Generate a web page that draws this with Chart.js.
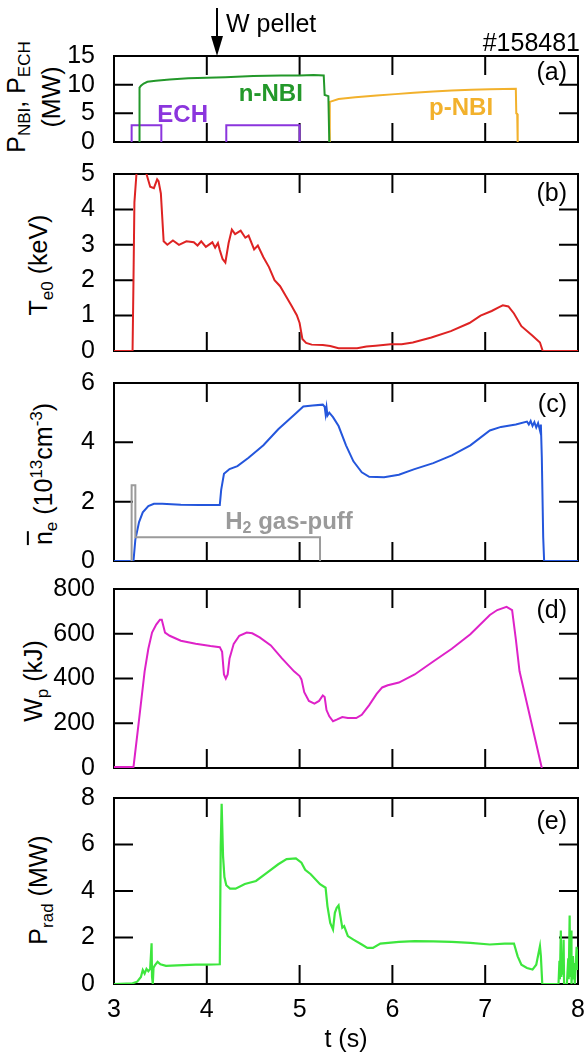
<!DOCTYPE html>
<html><head><meta charset="utf-8">
<script src="https://cdn.jsdelivr.net/npm/chart.js@4.4.0/dist/chart.umd.min.js"></script>
<style>
html,body{margin:0;padding:0;background:#fff;}
#wrap{position:relative;width:588px;height:1064px;overflow:hidden;font-family:"Liberation Sans",Arial,sans-serif;background:#fff;}
canvas{position:absolute;left:0;}
.yt{position:absolute;white-space:nowrap;font-size:25px;color:#000;transform:translate(-50%,-50%) rotate(-90deg);text-align:center;line-height:27px;}
.sb{font-size:0.68em;vertical-align:-0.3em;}
.sp{font-size:0.68em;vertical-align:0.6em;}
.ov{text-decoration:overline;}
</style></head><body>
<div id="wrap">
<div class="yt" style="left:34px;top:97px">P<span class="sb">NBI</span>, P<span class="sb">ECH</span><br>(MW)</div>
<div class="yt" style="left:43px;top:265px">T<span class="sb">e0</span> (keV)</div>
<div class="yt" style="left:44px;top:474px"><span class="ov">n</span><span class="sb">e</span> (10<span class="sp">13</span>cm<span class="sp">-3</span>)</div>
<div class="yt" style="left:38px;top:681px">W<span class="sb">p</span> (kJ)</div>
<div class="yt" style="left:43px;top:890px">P<span class="sb">rad</span> (MW)</div>
</div>
<script>
// ---------------- DATA ----------------
const xTicks = [3, 4, 5, 6, 7, 8];
const panelLabels = ['(a)', '(b)', '(c)', '(d)', '(e)'];
const yMin = [0, 0, 0, 0, 0];
const yMax = [15, 5, 6, 800, 8];
const yStep = [5, 1, 2, 200, 2];

// (a) heating power (MW)
const nbiT = [3.27, 3.275, 3.29, 3.32, 3.36, 3.45, 3.6, 3.8, 4.0, 4.2, 4.5, 4.8, 5.0, 5.15, 5.26, 5.27, 5.31, 5.32];
const nbiV = [0, 9.5, 9.8, 10.2, 10.5, 10.7, 10.9, 11.1, 11.2, 11.3, 11.5, 11.6, 11.6, 11.7, 11.6, 8.2, 8.0, 0];
const pnbiT = [5.32, 5.325, 5.42, 5.6, 5.83, 6.03, 6.23, 6.44, 6.64, 6.85, 7.05, 7.2, 7.33, 7.335, 7.345, 7.35];
const pnbiV = [0, 7.0, 7.5, 7.8, 8.1, 8.35, 8.6, 8.8, 9.0, 9.1, 9.2, 9.25, 9.3, 5.0, 4.9, 0];
const echT = [3.19, 3.19, 3.51, 3.51, 3.8, 4.21, 4.21, 5.0, 5.0];
const echV = [0, 2.9, 2.9, 0, null, 0, 2.9, 2.9, 0];

// (b) central electron temperature (keV)
const teT = [3.0, 3.2, 3.21, 3.22, 3.25, 3.27, 3.3, 3.35, 3.39, 3.43, 3.465, 3.48, 3.505, 3.535, 3.575, 3.635, 3.7, 3.78, 3.86, 3.9, 3.94, 3.99, 4.06, 4.09, 4.12, 4.14, 4.17, 4.2, 4.235, 4.27, 4.305, 4.365, 4.415, 4.45, 4.51, 4.55, 4.61, 4.67, 4.73, 4.79, 4.85, 4.91, 4.97, 5.0, 5.03, 5.07, 5.13, 5.25, 5.33, 5.42, 5.62, 5.72, 5.82, 5.98, 6.1, 6.22, 6.42, 6.63, 6.83, 6.95, 7.07, 7.15, 7.19, 7.25, 7.31, 7.39, 7.51, 7.59, 7.62, 8.0];
const teV = [0, 0, 2.0, 4.2, 5.3, 5.4, 5.3, 5.0, 4.64, 4.6, 4.85, 4.8, 4.45, 3.1, 3.0, 3.12, 3.0, 3.1, 3.07, 2.98, 3.1, 2.94, 3.07, 2.92, 3.05, 2.85, 2.6, 2.5, 3.05, 3.43, 3.3, 3.4, 3.2, 3.26, 2.87, 2.98, 2.65, 2.37, 2.0, 1.83, 1.56, 1.29, 1.01, 0.79, 0.34, 0.23, 0.18, 0.17, 0.14, 0.08, 0.08, 0.13, 0.15, 0.19, 0.19, 0.24, 0.38, 0.56, 0.79, 1.0, 1.13, 1.24, 1.29, 1.26, 1.06, 0.7, 0.43, 0.24, 0, 0];

// (c) line-averaged density (1e13 cm^-3)
const neT = [3.0, 3.21, 3.23, 3.27, 3.31, 3.37, 3.43, 3.52, 3.72, 3.92, 4.14, 4.155, 4.185, 4.245, 4.33, 4.45, 4.61, 4.77, 4.94, 5.04, 5.14, 5.25, 5.27, 5.28, 5.29, 5.30, 5.32, 5.36, 5.42, 5.5, 5.58, 5.67, 5.75, 5.91, 6.07, 6.23, 6.44, 6.64, 6.84, 7.05, 7.17, 7.33, 7.45, 7.47, 7.49, 7.51, 7.53, 7.55, 7.57, 7.59, 7.6, 7.61, 7.625, 7.635, 8.0];
const neV = [0, 0, 0.72, 1.31, 1.64, 1.85, 1.93, 1.93, 1.9, 1.89, 1.89, 2.4, 2.94, 3.1, 3.2, 3.48, 3.9, 4.44, 4.92, 5.21, 5.24, 5.27, 5.2, 4.95, 5.18, 4.9, 5.0, 4.85, 4.55, 3.9, 3.36, 2.99, 2.84, 2.82, 2.91, 3.09, 3.3, 3.56, 3.9, 4.4, 4.52, 4.6, 4.7, 4.6, 4.72, 4.55, 4.68, 4.5, 4.65, 4.4, 4.6, 3.5, 0.8, 0, 0];
const gasT = [3.19, 3.19, 3.23, 3.23, 5.22, 5.22];
const gasV = [0, 2.55, 2.55, 0.8, 0.8, 0];

// (d) stored energy (kJ)
const wpT = [3.0, 3.21, 3.27, 3.33, 3.37, 3.41, 3.455, 3.495, 3.515, 3.55, 3.6, 3.72, 3.88, 4.04, 4.14, 4.165, 4.185, 4.205, 4.225, 4.245, 4.29, 4.35, 4.43, 4.49, 4.57, 4.69, 4.81, 4.94, 5.0, 5.02, 5.05, 5.1, 5.16, 5.21, 5.25, 5.27, 5.29, 5.32, 5.36, 5.4, 5.46, 5.52, 5.61, 5.67, 5.75, 5.83, 5.89, 5.95, 6.07, 6.24, 6.44, 6.64, 6.84, 7.05, 7.13, 7.23, 7.29, 7.33, 7.37, 7.45, 7.53, 7.61];
const wpV = [5, 5, 216, 432, 533, 605, 641, 663, 663, 605, 591, 569, 555, 545, 540, 519, 418, 400, 418, 490, 555, 591, 605, 602, 584, 548, 490, 432, 411, 396, 339, 300, 288, 300, 324, 317, 259, 231, 209, 216, 228, 223, 223, 238, 281, 331, 360, 370, 382, 418, 476, 533, 598, 684, 706, 720, 706, 576, 432, 288, 144, 0];

// (e) radiated power (MW)
const pradT = [3.0, 3.2, 3.25, 3.29, 3.31, 3.33, 3.35, 3.37, 3.39, 3.405, 3.41, 3.418, 3.426, 3.44, 3.47, 3.5, 3.56, 3.68, 3.88, 4.0, 4.14, 4.15, 4.16, 4.175, 4.19, 4.21, 4.25, 4.31, 4.41, 4.53, 4.65, 4.77, 4.86, 4.96, 5.02, 5.06, 5.12, 5.22, 5.28, 5.3, 5.33, 5.36, 5.38, 5.4, 5.42, 5.44, 5.46, 5.48, 5.52, 5.58, 5.67, 5.73, 5.79, 5.87, 6.07, 6.24, 6.44, 6.64, 6.84, 7.05, 7.21, 7.31, 7.35, 7.39, 7.45, 7.51, 7.55, 7.59, 7.6, 7.615, 7.79, 7.8, 7.805, 7.815, 7.82, 7.83, 7.835, 7.845, 7.85, 7.88, 7.895, 7.9, 7.91, 7.915, 7.925, 7.93, 7.945, 7.95, 7.96, 7.965, 7.985, 7.99, 8.0];
const pradV = [0, 0.03, 0.1, 0.3, 0.6, 0.45, 0.65, 0.55, 0.65, 1.75, 0.3, 0.0, 0.7, 0.8, 0.95, 0.85, 0.78, 0.8, 0.83, 0.83, 0.85, 5.9, 7.75, 5.5, 4.6, 4.25, 4.1, 4.1, 4.3, 4.43, 4.79, 5.15, 5.37, 5.4, 5.22, 4.91, 4.72, 4.29, 4.14, 3.35, 2.63, 2.35, 3.06, 3.28, 3.38, 2.91, 2.42, 2.49, 2.06, 1.91, 1.7, 1.55, 1.55, 1.74, 1.81, 1.84, 1.83, 1.81, 1.77, 1.7, 1.74, 1.74, 1.19, 0.83, 0.69, 0.62, 0.83, 1.63, 1.2, 0, 0, 1.0, 0.2, 2.3, 0.3, 1.2, 0.4, 1.9, 0, 0, 1.1, 0.2, 2.95, 0.3, 2.3, 0, 1.2, 0.2, 0.9, 0, 1.6, 0.6, 1.5];

// ---------------- STYLE / LAYOUT ----------------
const FONT = '"Liberation Sans", Arial, sans-serif';
Chart.defaults.font.family = FONT;
Chart.defaults.color = '#000';
const TL = 19;            // inward tick length
const panelTop = [56, 173, 382, 588, 797];
const panelBot = [148, 357, 567, 774, 984];
const labelDy = [17, 20, 22, 22, 24];

const C = {
  nbi: '#23982a', pnbi: '#f2b12c', ech: '#8b35dd', te: '#de2323',
  ne: '#2456dc', gas: '#9b9b9b', wp: '#de22c8', prad: '#3de63d'
};

const series = [
  [{t: nbiT, v: nbiV, c: C.nbi}, {t: pnbiT, v: pnbiV, c: C.pnbi}, {t: echT, v: echV, c: C.ech}],
  [{t: teT, v: teV, c: C.te}],
  [{t: gasT, v: gasV, c: C.gas}, {t: neT, v: neV, c: C.ne}],
  [{t: wpT, v: wpV, c: C.wp}],
  [{t: pradT, v: pradV, c: C.prad, w: 2.2}]
];

// text annotations (data coordinates)
const notes = [
  [{parts: [{t: 'ECH'}], x: 3.74, y: 4.6, c: C.ech},
   {parts: [{t: 'n-NBI'}], x: 4.69, y: 8.3, c: C.nbi},
   {parts: [{t: 'p-NBI'}], x: 6.74, y: 5.9, c: C.pnbi}],
  [],
  [{parts: [{t: 'H'}, {t: '2', s: 0.68, dy: 6}, {t: ' gas-puff'}], x: 4.886, y: 1.31, c: '#9a9a9a'}],
  [], []
];

function drawRich(ctx, parts, x, y, size, bold, align) {
  let total = 0;
  parts.forEach(p => {
    ctx.font = (bold ? 'bold ' : '') + Math.round(size * (p.s || 1)) + 'px ' + FONT;
    p.w = ctx.measureText(p.t).width; total += p.w;
  });
  let cx = align === 'center' ? x - total / 2 : (align === 'right' ? x - total : x);
  parts.forEach(p => {
    ctx.font = (bold ? 'bold ' : '') + Math.round(size * (p.s || 1)) + 'px ' + FONT;
    ctx.textAlign = 'left'; ctx.textBaseline = 'middle';
    ctx.fillText(p.t, cx, y + (p.dy || 0));
    cx += p.w;
  });
}

const wrap = document.getElementById('wrap');

function makePanel(i) {
  const last = i === 4;
  const pt = i === 0 ? panelTop[0] : 25;
  const pb = last ? 0 : 20;
  const top = panelTop[i] - pt;
  const h = last ? 1064 - top : (panelBot[i] - panelTop[i]) + pt + pb;
  const cv = document.createElement('canvas');
  cv.width = 588; cv.height = h; cv.style.top = top + 'px';
  cv.style.width = '588px'; cv.style.height = h + 'px';
  wrap.appendChild(cv);

  const framePlugin = {
    id: 'frame' + i,
    beforeDatasetsDraw(chart) {
      const {ctx, chartArea: a, scales: {x, y}} = chart;
      ctx.save();
      ctx.strokeStyle = '#000'; ctx.lineWidth = 2;
      ctx.strokeRect(a.left, a.top, a.right - a.left, a.bottom - a.top);
      ctx.beginPath();
      y.ticks.forEach(tk => {
        const py = y.getPixelForValue(tk.value);
        ctx.moveTo(a.left, py); ctx.lineTo(a.left + TL, py);
        ctx.moveTo(a.right, py); ctx.lineTo(a.right - TL, py);
      });
      xTicks.forEach(v => {
        const px = x.getPixelForValue(v);
        ctx.moveTo(px, a.top); ctx.lineTo(px, a.top + TL);
        ctx.moveTo(px, a.bottom); ctx.lineTo(px, a.bottom - TL);
      });
      ctx.stroke();
      ctx.restore();
    },
    afterDraw(chart) {
      const {ctx, chartArea: a, scales: {x, y}} = chart;
      ctx.save();
      ctx.fillStyle = '#000';
      drawRich(ctx, [{t: panelLabels[i]}], a.right - 11, a.top + labelDy[i], 25, false, 'right');
      notes[i].forEach(n => {
        ctx.fillStyle = n.c;
        drawRich(ctx, n.parts, x.getPixelForValue(n.x), y.getPixelForValue(n.y), 24, true, 'center');
      });
      if (i === 0) {
        const px = Math.round(x.getPixelForValue(4.11));
        ctx.strokeStyle = '#000'; ctx.fillStyle = '#000'; ctx.lineWidth = 2;
        ctx.beginPath(); ctx.moveTo(px, 8); ctx.lineTo(px, 40); ctx.stroke();
        ctx.beginPath(); ctx.moveTo(px - 6, 36); ctx.lineTo(px + 6, 36); ctx.lineTo(px, 56); ctx.closePath(); ctx.fill();
        drawRich(ctx, [{t: 'W pellet'}], px + 9, 25, 25, false, 'left');
        drawRich(ctx, [{t: '#158481'}], 580, 44, 25, false, 'right');
      }
      ctx.restore();
    }
  };

  new Chart(cv, {
    type: 'line',
    data: {
      datasets: series[i].map(s => ({
        data: s.t.map((t, k) => ({x: t, y: s.v[k]})),
        borderColor: s.c, borderWidth: s.w || 2, pointRadius: 0, fill: false, tension: 0,
        spanGaps: false
      }))
    },
    options: {
      responsive: false, animation: false, devicePixelRatio: 1,
      layout: {padding: {top: pt, bottom: pb, left: 0, right: 10}},
      plugins: {legend: {display: false}, tooltip: {enabled: false}},
      scales: {
        x: {
          type: 'linear', min: xTicks[0], max: xTicks[xTicks.length - 1], display: last,
          grid: {display: false}, border: {display: false},
          ticks: {stepSize: 1, font: {size: 25}, padding: 3, color: '#000', maxRotation: 0, autoSkip: false},
          title: {display: last, text: 't (s)', font: {size: 25}, color: '#000', padding: {top: 0, bottom: 9}},
          afterFit: s => { if (last) s.height = 80; }
        },
        y: {
          type: 'linear', min: yMin[i], max: yMax[i],
          grid: {display: false}, border: {display: false},
          ticks: {stepSize: yStep[i], font: {size: 25}, padding: 11, color: '#000', autoSkip: false},
          afterFit: s => { s.width = 114; }
        }
      }
    },
    plugins: [framePlugin]
  });
}
for (let i = 0; i < 5; i++) makePanel(i);
</script>
</body></html>
